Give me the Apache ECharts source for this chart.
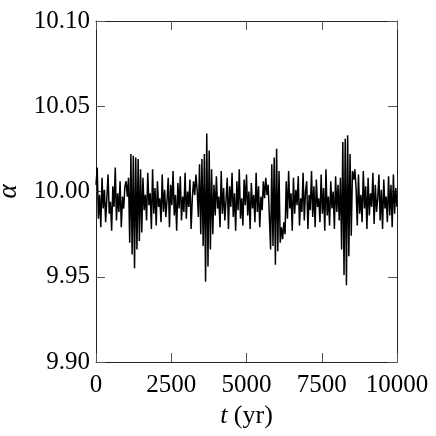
<!DOCTYPE html>
<html>
<head>
<meta charset="utf-8">
<script src="https://cdn.jsdelivr.net/npm/echarts@6/dist/echarts.min.js"></script>
<style>
html,body{margin:0;padding:0;background:#fff;}
#chart{width:436px;height:436px;}
</style>
</head>
<body>
<div id="chart"></div>
<script>
// Sampling step of the time series (yr); t = index * dt
var dt = 40;
// alpha values, t = 0 ... 1960
var alphaSeg1 = [
  10.004, 10.014, 9.984, 9.998, 9.979, 10.008, 9.990, 10.001, 9.982, 9.996,
  10.010, 9.987, 9.994, 9.977, 10.003, 9.991, 10.014, 9.983, 9.999, 9.988,
  10.006, 9.979, 9.997, 9.990, 10.003, 10.006, 9.997, 10.008, 9.970, 10.022,
  9.963, 10.021, 9.955, 10.020, 9.966, 10.019, 9.971, 10.013, 9.976, 10.008,
  9.989, 9.998, 9.983, 10.011, 9.992, 9.999, 9.978, 10.013, 9.987, 10.002
];
// t = 2000 ... 3960
var alphaSeg2 = [
  9.980, 10.006, 9.991, 9.996, 9.982, 10.010, 9.988, 10.001, 9.985, 9.995,
  10.008, 9.979, 10.004, 9.992, 10.012, 9.986, 9.998, 9.977, 10.005, 9.990,
  10.009, 9.983, 9.997, 9.988, 10.011, 9.984, 10.000, 9.991, 10.007, 9.978,
  9.996, 10.006, 9.998, 10.010, 10.001, 9.985, 10.016, 9.975, 10.019, 9.968,
  10.022, 9.947, 10.034, 9.956, 10.024, 9.966, 10.013, 9.975, 10.004, 9.986
];
// t = 4000 ... 5960
var alphaSeg3 = [
  10.009, 9.990, 9.997, 9.979, 10.012, 9.987, 10.002, 9.983, 9.995, 10.008,
  9.978, 10.003, 9.991, 10.011, 9.985, 9.999, 9.977, 10.006, 9.989, 10.013,
  9.984, 9.996, 9.980, 10.007, 9.992, 10.010, 9.986, 10.000, 9.978, 10.005,
  9.990, 9.998, 9.982, 10.011, 9.988, 10.003, 9.979, 9.997, 9.989, 10.006,
  9.996, 10.008, 9.998, 10.004, 9.985, 9.966, 10.016, 9.968, 10.020, 9.957
];
// t = 6000 ... 7960
var alphaSeg4 = [
  10.025, 9.965, 10.012, 9.970, 9.979, 9.972, 9.982, 9.975, 10.006, 9.984,
  10.012, 9.990, 9.999, 9.977, 10.008, 9.987, 10.001, 9.992, 10.009, 9.980,
  9.996, 9.988, 10.011, 9.983, 10.000, 10.006, 9.978, 9.998, 9.989, 10.012,
  9.985, 10.003, 9.979, 10.007, 9.991, 9.996, 9.982, 10.010, 9.987, 10.002,
  9.977, 10.013, 9.986, 9.997, 9.980, 10.006, 9.990, 10.000, 9.978, 10.009
];
// t = 8000 ... 10000
var alphaSeg5 = [
  9.988, 10.004, 9.983, 10.008, 9.966, 10.029, 9.951, 10.031, 9.945, 10.033,
  9.962, 10.022, 9.974, 10.012, 10.007, 10.013, 10.002, 9.980, 10.010, 9.987,
  9.998, 9.982, 10.012, 9.990, 10.003, 9.978, 10.008, 9.986, 9.999, 9.991,
  10.011, 9.981, 10.004, 9.988, 9.996, 10.010, 9.983, 10.001, 9.978, 10.007,
  9.990, 9.997, 9.982, 10.009, 9.986, 10.004, 9.979, 10.010, 9.987, 10.002,
  9.991
];
var xTicks = [0, 2500, 5000, 7500, 10000];
var yTicks = [9.90, 9.95, 10.00, 10.05, 10.10];

var alpha = alphaSeg1.concat(alphaSeg2, alphaSeg3, alphaSeg4, alphaSeg5);
var seriesData = alpha.map(function (v, i) { return [i * dt, v]; });

var FONT = '"Liberation Serif", "DejaVu Serif", serif';
var chart = echarts.init(document.getElementById('chart'), null, {renderer: 'canvas'});

function xAxisCfg(pos, show) {
  return {
    type: 'value', position: pos,
    min: xTicks[0], max: xTicks[xTicks.length - 1], interval: xTicks[1] - xTicks[0],
    axisLine: {show: true, onZero: false, lineStyle: {color: '#222', width: 1}},
    axisTick: {show: true, inside: true, length: 9, lineStyle: {color: '#555', width: 1}},
    splitLine: {show: false},
    axisLabel: {show: show, color: '#000', fontFamily: FONT, fontSize: 25, margin: 11,
      formatter: function (v) { return String(v); }},
    name: show ? '{i|t} (yr)' : '',
    nameLocation: 'middle', nameGap: 38,
    nameTextStyle: {color: '#000', fontFamily: FONT, fontSize: 26,
      rich: {i: {fontStyle: 'italic', fontFamily: FONT, fontSize: 26, color: '#000'}}}
  };
}
function yAxisCfg(pos, show) {
  return {
    type: 'value', position: pos,
    min: yTicks[0], max: yTicks[yTicks.length - 1], interval: 0.05,
    axisLine: {show: true, onZero: false, lineStyle: {color: '#222', width: 1}},
    axisTick: {show: true, inside: true, length: 9, lineStyle: {color: '#555', width: 1}},
    splitLine: {show: false},
    axisLabel: {show: show, color: '#000', fontFamily: FONT, fontSize: 25, margin: 6,
      formatter: function (v) { return v.toFixed(2); }},
    name: show ? 'α' : '',
    nameLocation: 'middle', nameGap: 66, nameRotate: 90,
    nameTextStyle: {color: '#000', fontFamily: FONT, fontSize: 27, fontStyle: 'italic'}
  };
}

chart.setOption({
  animation: false,
  backgroundColor: '#fff',
  grid: {left: 96, right: 39, top: 21, bottom: 74, containLabel: false, outerBoundsMode: 'none'},
  xAxis: [xAxisCfg('bottom', true), xAxisCfg('top', false)],
  yAxis: [yAxisCfg('left', true), yAxisCfg('right', false)],
  series: [{
    type: 'line', xAxisIndex: 0, yAxisIndex: 0,
    data: seriesData, showSymbol: false, symbol: 'none',
    lineStyle: {color: '#000', width: 1.5}
  }]
});
</script>
</body>
</html>
